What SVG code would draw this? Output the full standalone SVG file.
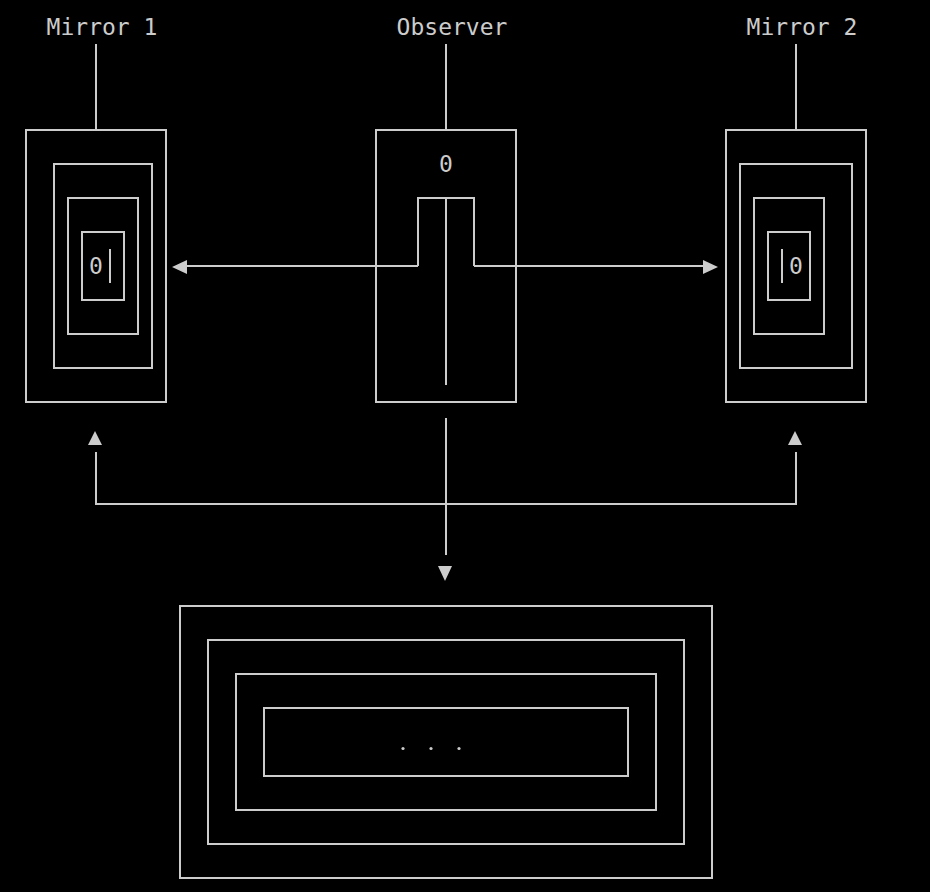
<svg xmlns="http://www.w3.org/2000/svg" width="930" height="892" viewBox="0 0 930 892">
<style>
.ln{fill:none;stroke:#cccccc;stroke-width:2}
.ah{fill:#cccccc}
text{font-family:"DejaVu Sans Mono","Liberation Mono",monospace;font-size:23px;fill:#cccccc;text-anchor:middle}
</style>
<rect width="930" height="892" fill="#000000"/>
<g id="mirror1">
<text x="102" y="35">Mirror 1</text>
<rect class="ln" x="26" y="130" width="140" height="272"/>
<rect class="ln" x="54" y="164" width="98" height="204"/>
<rect class="ln" x="68" y="198" width="70" height="136"/>
<rect class="ln" x="82" y="232" width="42" height="68"/>
<text x="96" y="274">0</text>
<line class="ln" x1="110" y1="249" x2="110" y2="283"/>
</g>
<g id="observer">
<text x="452" y="35">Observer</text>
<rect class="ln" x="376" y="130" width="140" height="272"/>
<text x="446" y="172">0</text>
<polyline class="ln" points="418,266 418,198 474,198 474,266"/>
<line class="ln" x1="446" y1="198" x2="446" y2="385"/>
</g>
<g id="mirror2">
<text x="802" y="35">Mirror 2</text>
<rect class="ln" x="726" y="130" width="140" height="272"/>
<rect class="ln" x="740" y="164" width="112" height="204"/>
<rect class="ln" x="754" y="198" width="70" height="136"/>
<rect class="ln" x="768" y="232" width="42" height="68"/>
<text x="796" y="274">0</text>
<line class="ln" x1="782" y1="249" x2="782" y2="283"/>
</g>
<g id="reflections">
<rect class="ln" x="180" y="606" width="532" height="272"/>
<rect class="ln" x="208" y="640" width="476" height="204"/>
<rect class="ln" x="236" y="674" width="420" height="136"/>
<rect class="ln" x="264" y="708" width="364" height="68"/>
<circle class="ah" cx="403" cy="748.5" r="1.6"/>
<circle class="ah" cx="431" cy="748.5" r="1.6"/>
<circle class="ah" cx="459" cy="748.5" r="1.6"/>
</g>
<g id="connectors">
<line class="ln" x1="96" y1="44" x2="96" y2="130"/>
<line class="ln" x1="446" y1="44" x2="446" y2="130"/>
<line class="ln" x1="796" y1="44" x2="796" y2="130"/>
<line class="ln" x1="184" y1="266" x2="418" y2="266"/>
<polygon class="ah" points="172,267 187,260 187,274"/>
<line class="ln" x1="474" y1="266" x2="706" y2="266"/>
<polygon class="ah" points="718,267 703,260 703,274"/>
<polyline class="ln" points="96,452 96,504 796,504 796,452"/>
<polygon class="ah" points="95,431 88,445 102,445"/>
<polygon class="ah" points="795,431 788,445 802,445"/>
<line class="ln" x1="446" y1="418" x2="446" y2="555"/>
<polygon class="ah" points="445,581 438,566 452,566"/>
</g>
</svg>
